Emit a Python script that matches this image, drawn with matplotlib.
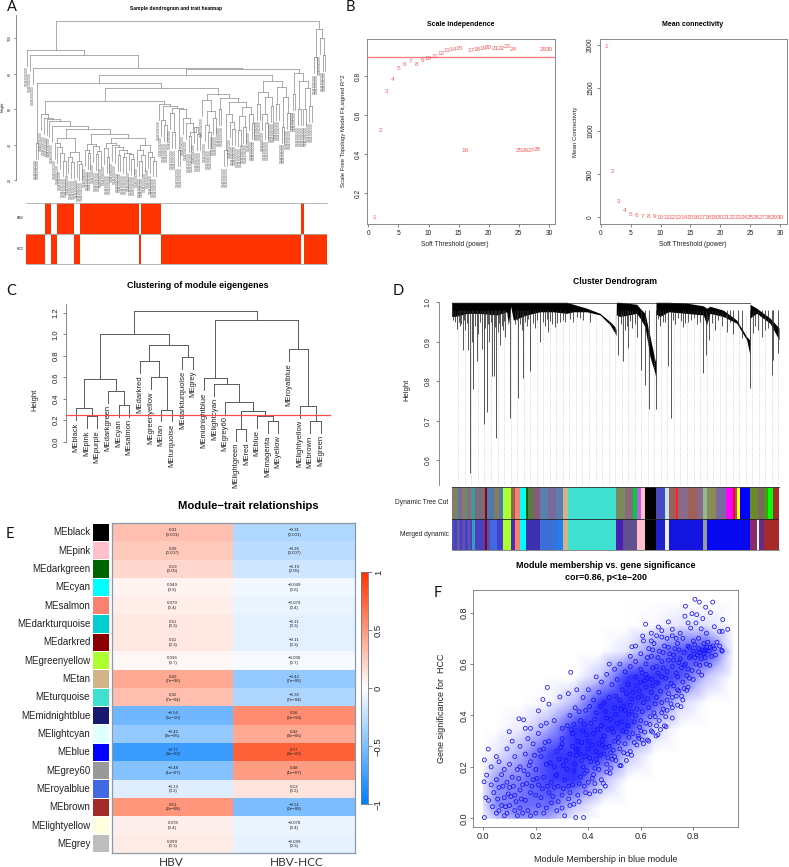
"""Six-panel WGCNA figure (A-F), rebuilt from values read off the published picture."""
import numpy as np
import matplotlib
matplotlib.use("Agg")
import matplotlib.pyplot as plt
from matplotlib.colors import LinearSegmentedColormap

plt.rcParams["font.family"] = ["Liberation Sans", "DejaVu Sans"]
plt.rcParams["axes.linewidth"] = 0.6
plt.rcParams["axes.edgecolor"] = "#777777"
plt.rcParams["xtick.color"] = "#555555"
plt.rcParams["ytick.color"] = "#555555"
plt.rcParams["xtick.labelcolor"] = "#222222"
plt.rcParams["ytick.labelcolor"] = "#222222"

W, H = 789, 867
G = "GSM2000000"  # sample ids are not legible in the source

# --- A: sample tree (height, left, right)
fan_a = (43.5, (41, G, (38.5, G, (35, G, (31, G, G)))), (36, (33, G, (30, G, G)), (30.5, G, (29, G, G))))
fan_b1 = (40.5, (37, G, (35, G, G)), (39, G, (36.5, (34.5, G, G), G)))
fan_c = (41, (38, G, (33, G, G)), (39.5, G, (38.5, G, (37, (34, G, G), (35.5, (33, G, G), (34.5, G, (32, G, G)))))))
fan_d = (39.5, (37, G, (34, (31, G, G), G)), (36, G, (33, G, (31, G, G))))
fan = (57, G, (55, G, (54.5, G, (53.5, G, (50.5, G, (49, fan_a, (46, fan_b1, (43.5, fan_c, fan_d))))))))
mid = (63, G, (62, (54, G, (51, G, G)), (60.5, (58, G, (47, G, G)),
      (60, (37, G, G), (55, G, (52, G, (47, (45, G, G), (50, G, (46, G, G)))))))))
r_a = (68.5, (65, G, (59, (51, G, (47, G, G)), (55, G, G))),
       (66.5, (60, G, G), (64, (57, (37, G, G), (53, G, (49, G, G))),
                           (61, (56, (48, G, G), (50, G, G)), (57, G, (52, G, G))))))
r_b = (76, (69.5, (63, G, G), (67, (57, G, (52, G, G)), (62, G, G))),
       (72.3, (63, G, G), (66.8, (50, G, G), (58, G, G))))
main = (79, (75, (41, G, G), (72, (64.5, fan, mid), r_a)), r_b)
far_six = (80.5, (68.5, G, G), (76, (60, G, G), (72, (60, G, G), (62, G, G))))
far_right = (105, (89.4, G, G), (100, G, (90.8, G, G)))
sample_tree = (110, (93.6, G, (90.6, G, (83, G, (82.5, main, far_six)))), far_right)
height_ticks = [20, 40, 60, 80, 100]
sample_runs = [7.25, 2.25, 2.25, 6.25, 2.1, 22.1, 1.1, 7.25, 52.6, 1.1, 8.5]

# --- B: soft threshold
powers = list(range(1, 31))
sft_r2 = [0.077, 0.52, 0.72, 0.786, 0.838, 0.863, 0.877, 0.86, 0.88, 0.894, 0.904, 0.918, 0.93, 0.938, 0.942,
          0.42, 0.933, 0.938, 0.945, 0.949, 0.944, 0.945, 0.952, 0.938, 0.419, 0.42, 0.42, 0.424, 0.938, 0.938]
mean_k = [1977, 528, 181, 73, 31, 15, 9, 6, 4, 3, 2, 2, 1, 1, 1, 1, 1, 1, 1, 1, 1, 1, 1, 1, 1, 1, 1, 1, 1, 1]

# --- C: eigengene tree
me_left = (0.58, (0.31, "MEblack", (0.24, "MEpink", "MEpurple")),
           (0.47, "MEdarkgreen", (0.34, "MEcyan", "MEsalmon")))
me_mid = (0.90, (0.75, "MEdarkred", (0.60, "MEgreenyellow", (0.30, "MEtan", "MEturquoise"))),
          (0.79, "MEdarkturquoise", "MEgrey"))
me_blue = (0.59, "MEmidnightblue", (0.54, "MElightcyan", (0.37, "MEgrey60", (0.29, (0.12, "MElightgreen", "MEred"),
           (0.235, "MEblue", (0.19, "MEmagenta", "MEyellow"))))))
me_roy = (0.86, "MEroyalblue", (0.33, "MElightyellow", (0.19, "MEbrown", "MEgreen")))
me_tree = (1.22, (1.0, me_left, me_mid), (1.13, me_blue, me_roy))

# --- D: gene tree, read as mass outline plus visible branches
d_pos = [335, 350, 380, 420, 470, 500, 505, 510, 512, 520, 560, 600, 640, 680, 700, 740, 780, 810, 825, 828,
         829, 840, 890, 900, 915, 930, 945, 947,
         948, 960, 985, 1040, 1090, 1100, 1110, 1150, 1190, 1220, 1229,
         1230, 1250, 1290, 1317]
d_top = [1, 1, 1, 1, 1, 1, 1, 1, 1, 1, 1, 1, 1, 1, .995, .985, .972, .951, .938, .93,
         1, 1, .995, .985, .972, .913, .854, .85,
         1, 1, 1, .998, .991, .985, .99, .98, .955, .913, .905,
         .995, .985, .96, .935]
d_bot = [.964, .965, .972, .972, .968, .976, .943, .975, .99, .955, .968, .976, .976, .972, .976, .976, .968, .943, .922, .915,
         .968, .964, .972, .96, .938, .862, .82, .81,
         .97, .964, .976, .972, .968, .943, .972, .964, .947, .905, .87,
         .96, .972, .947, .905]
spike_pos = [352, 368, 385, 391, 400, 410, 425, 431, 440, 455, 462, 469, 480, 495, 510, 535, 550, 570, 600, 625, 645,
             700, 835, 848, 865, 890, 902, 915, 928, 947, 985, 994, 1028, 1088, 1097, 1108, 1230, 1295, 1315, 1300,
             1240, 1265, 345, 360, 375, 395, 415, 448, 475, 488, 525, 545, 560, 585, 615, 635, 660, 720, 855, 875,
             960, 975, 1005, 1045, 1070, 1125, 1160, 1180, 1205,
             340, 356, 364, 372, 380, 405, 420, 436, 445, 452, 466, 478, 485, 492, 530, 540, 555, 565, 578, 592, 608, 622,
             630, 652, 668, 676, 690, 710, 730, 750, 842, 860, 870, 884, 955, 968, 1000, 1015, 1022, 1035, 1052, 1062,
             1080, 1115, 1135, 1145, 1170, 1195, 1245, 1255, 1275, 1285]
spike_low = [.932, .879, .879, .569, .78, .852, .881, .692, .723, .814, .814, .657, .892, .913, .708, .759, .809, .827,
             .9, .926, .938, .951, .867, .852, .884, .913, .829, .791, .729, .729, .839, .708, .938, .82, .867, .905,
             .782, .816, .871, .854, .922, .913, .95, .94, .93, .9, .92, .9, .925, .93, .945, .93, .94, .935, .94, .945,
             .95, .96, .93, .935, .94, .95, .945, .95, .945, .93, .925, .92, .91,
             .955, .95, .945, .955, .948, .94, .95, .935, .945, .95, .938, .948, .94, .952, .955, .945, .95, .958, .948, .955,
             .95, .957, .952, .948, .955, .95, .958, .962, .955, .95, .945, .94, .952, .945, .958, .95, .955, .96, .952, .948,
             .955, .96, .95, .948, .955, .94, .95, .945, .94, .93, .93, .935]
merged_colors = ["#5050b8", "#4a40c0", "#6058b0", "#4a3cc0", "#5c50b0", "#4a40c0", "#6058b0", "#4a40c0", "#2f9fc0", "#4a40c0",
                 "#8b0000", "#5050b8", "#4169e1", "#4040d0", "#adff2f", "#4a30b0", "#fa8072", "#00ffff", "#3c30b0", "#3a70d8",
                 "#2080f0", "#d2b48c", "#40e0d0", "#4a20b0", "#605090", "#ffc0cb", "#000000", "#2020d0", "#e8f0ff", "#1414e0",
                 "#999999", "#0808f0", "#8b2a6a", "#ffffff", "#6a2a8a", "#a52a2a"]
merged_widths = [8, 8, 8, 8, 8, 8, 8, 4, 10, 30, 6, 9, 20, 20, 22, 13, 16, 17, 42, 50, 19, 14, 145, 22, 40, 25, 33, 27, 12,
                 101, 12, 130, 20, 8, 14, 45]
dynamic_colors = ["#8a7a6a", "#6a8a6a", "#7a6a9a", "#8a7a6a", "#6a8a6a", "#7a6a9a", "#8a7a6a", "#2f9f9f", "#7a6a7a", "#8b0000",
                  "#4a7ab0", "#8a7a5a", "#4a7ab0", "#adff2f", "#8a6a4a", "#fa8072", "#00ffff", "#006400", "#5a7a4a", "#8a5a7a",
                  "#5a80b0", "#7a6a9a", "#5a80b0", "#d2b48c", "#40e0d0", "#7a8a5a", "#8a6a7a", "#00cc44", "#c060e0", "#ffc0cb",
                  "#000000", "#4a4ac0", "#c0e8f0", "#a0605a", "#ff2020", "#8a6a8a", "#a0605a", "#8a6a8a", "#8fbc8f", "#8a8a5a",
                  "#7a6aa0", "#ff00ff", "#ff0000", "#7a5a9a", "#ffff00", "#0000ff", "#6a8a2a", "#7a6a5a", "#4a9a1a", "#00ff00",
                  "#a52a2a"]
dynamic_widths = [10, 10, 10, 10, 10, 5, 5, 10, 30, 6, 20, 15, 14, 22, 13, 16, 17, 6, 18, 18, 25, 22, 22, 14, 145, 26, 26, 10,
                  13, 12, 33, 27, 12, 21, 6, 30, 26, 18, 12, 29, 29, 22, 6, 6, 7, 31, 25, 17, 13, 15, 17]

# --- E: module-trait table
me_rows = ["MEblack", "MEpink", "MEdarkgreen", "MEcyan", "MEsalmon", "MEdarkturquoise", "MEdarkred", "MEgreenyellow", "MEtan",
           "MEturquoise", "MEmidnightblue", "MElightcyan", "MEblue", "MEgrey60", "MEroyalblue", "MEbrown", "MElightyellow", "MEgrey"]
me_colors = ["black", "pink", "darkgreen", "cyan", "salmon", "darkturquoise", "darkred", "greenyellow", "tan",
             "turquoise", "midnightblue", "lightcyan", "blue", "#999999", "royalblue", "brown", "lightyellow", "#bebebe"]
traits = ["HBV", "HBV-HCC"]
cor_hbv = [0.31, 0.26, 0.19, 0.049, 0.079, 0.11, 0.11, 0.036, 0.42, 0.32, -0.56, -0.42, -0.77, -0.48, -0.13, 0.51, 0.078, 0.099]
cor_hcc = [-0.31, -0.26, -0.19, -0.049, -0.079, -0.11, -0.11, -0.036, -0.42, -0.32, 0.56, 0.42, 0.77, 0.48, 0.13, -0.51, -0.078, -0.099]
pvals = ["0.001", "0.007", "0.05", "0.6", "0.4", "0.3", "0.3", "0.7", "7e\u221206", "7e\u221204", "5e\u221210", "9e\u221206",
         "4e\u221222", "1e\u221207", "0.2", "2e\u221208", "0.4", "0.3"]

# --- F: module membership vs gene significance
pts_edge = [(.806, .852), (.823, .841), (.874, .841), (.77, .825), (.847, .821), (.768, .786), (.795, .796), (.813, .792),
            (.865, .8), (.912, .773), (.836, .777), (.931, .735), (.91, .727), (.9, .727), (.91, .65), (.705, .764),
            (.667, .744), (.618, .755), (.566, .667), (.607, .709), (.333, .568), (.244, .509), (.227, .462), (.136, .387),
            (.154, .383), (.099, .337), (.004, .227), (.019, .269), (.356, .5), (.324, .485), (.292, .472), (.25, .444),
            (.21, .418), (.013, .168), (.003, .142), (.352, .003), (.382, .003), (.004, .003), (.457, .136), (.425, .106),
            (.483, .175), (.52, .205), (.592, .311), (.658, .32), (.696, .356), (.753, .434), (.775, .498), (.832, .557),
            (.863, .595), (.908, .654), (.83, .737), (.79, .74), (.75, .72), (.72, .735), (.68, .705), (.64, .69),
            (.88, .745), (.89, .685), (.85, .72), (.81, .76), (.78, .76), (.735, .7), (.85, .665), (.875, .67)]
pts_low = [(.02, .07), (.03, .13), (.01, .08), (.05, .02), (.06, .03), (.07, .05), (.08, .01), (.09, .02), (.1, .05), (.12, .03),
           (.13, .01), (.14, .04), (.15, .02), (.17, .03), (.18, .01), (.2, .02), (.21, .05), (.23, .02), (.24, .04), (.28, .03),
           (.3, .04), (.31, .01), (.33, .05), (.26, .06), (.04, .1), (.06, .12), (.08, .08), (.1, .12), (.12, .09), (.14, .11),
           (.16, .07), (.18, .1), (.2, .09), (.22, .08), (.25, .1), (.27, .12), (.3, .09), (.33, .1), (.36, .09), (.39, .1),
           (.05, .15), (.07, .17), (.09, .14), (.11, .16), (.13, .19), (.15, .13), (.17, .17), (.19, .15), (.21, .13), (.23, .16),
           (.26, .14), (.28, .17), (.31, .15), (.34, .13), (.37, .16), (.4, .14), (.42, .17), (.45, .15), (.03, .2), (.06, .22),
           (.08, .19), (.1, .21), (.12, .24), (.14, .2), (.16, .25), (.18, .22), (.2, .19), (.22, .24), (.24, .21), (.27, .2),
           (.29, .23), (.32, .19), (.35, .21), (.38, .2), (.41, .22), (.44, .19), (.47, .21), (.05, .24), (.09, .27), (.11, .3),
           (.14, .28), (.17, .31), (.19, .29), (.21, .33), (.23, .27), (.25, .3), (.28, .26), (.3, .29), (.33, .25), (.36, .27),
           (.39, .24), (.43, .26), (.46, .25), (.49, .23), (.16, .35), (.18, .35), (.22, .36), (.24, .37), (.27, .38), (.3, .35)]
pts_mid = [(.3, .31), (.32, .36), (.34, .33), (.36, .3), (.38, .34), (.4, .3), (.42, .33), (.44, .29), (.46, .32), (.48, .28),
           (.5, .3), (.52, .27), (.54, .29), (.56, .26), (.33, .4), (.35, .43), (.37, .38), (.39, .42), (.41, .37), (.43, .41),
           (.45, .36), (.47, .39), (.49, .35), (.51, .37), (.53, .34), (.55, .36), (.57, .33), (.59, .32), (.61, .29), (.38, .47),
           (.4, .5), (.42, .46), (.44, .49), (.46, .45), (.48, .47), (.5, .43), (.52, .46), (.54, .42), (.56, .44), (.58, .4),
           (.6, .38), (.62, .37), (.64, .34), (.43, .55), (.45, .53), (.47, .56), (.49, .52), (.51, .54), (.53, .5), (.55, .52),
           (.57, .49), (.59, .47), (.61, .45), (.63, .43), (.65, .41), (.67, .38), (.69, .36), (.48, .6), (.5, .58), (.52, .6),
           (.54, .57), (.56, .59), (.58, .55), (.6, .53), (.62, .51), (.64, .49), (.66, .47), (.68, .45), (.7, .42), (.72, .39),
           (.34, .28), (.37, .25), (.4, .27), (.43, .23), (.47, .18), (.5, .24), (.55, .25), (.6, .34), (.63, .3), (.66, .36)]
pts_high = [(.56, .63), (.58, .61), (.6, .64), (.62, .6), (.64, .63), (.66, .59), (.68, .61), (.7, .57), (.72, .59), (.74, .55),
            (.76, .53), (.78, .51), (.8, .54), (.82, .57), (.58, .67), (.61, .69), (.63, .66), (.65, .68), (.67, .65), (.69, .67),
            (.71, .64), (.73, .66), (.75, .62), (.77, .6), (.79, .63), (.81, .6), (.83, .62), (.85, .6), (.87, .63), (.64, .72),
            (.66, .71), (.68, .73), (.7, .7), (.72, .71), (.74, .68), (.76, .7), (.78, .67), (.8, .69), (.82, .66), (.84, .68),
            (.86, .65), (.88, .66), (.9, .67), (.66, .53), (.68, .55), (.7, .51), (.72, .47), (.74, .5), (.76, .46), (.78, .58),
            (.62, .56), (.64, .54), (.6, .58), (.74, .44), (.72, .43), (.7, .46), (.68, .41), (.8, .65), (.82, .7), (.84, .64)]
pts_fill = [(.255, .215), (.275, .165), (.295, .275), (.315, .225), (.325, .125), (.345, .185), (.355, .245), (.365, .135),
            (.375, .295), (.385, .175), (.395, .325), (.405, .235), (.415, .285), (.425, .195), (.435, .345), (.445, .245),
            (.455, .305), (.465, .275), (.475, .345), (.485, .255), (.495, .335), (.505, .405), (.515, .315), (.525, .375),
            (.535, .435), (.545, .335), (.555, .405), (.565, .465), (.575, .375), (.585, .425), (.595, .495), (.605, .415),
            (.615, .535), (.625, .465), (.635, .395), (.645, .515), (.655, .445), (.665, .565), (.675, .495), (.685, .425),
            (.695, .545), (.705, .615), (.715, .525), (.725, .635), (.735, .565), (.745, .495), (.755, .585), (.765, .645),
            (.775, .555), (.785, .625), (.795, .575), (.805, .675), (.815, .635), (.825, .595), (.835, .655), (.845, .625),
            (.855, .685), (.345, .365), (.365, .415), (.385, .365), (.405, .435), (.425, .385), (.445, .435), (.465, .415),
            (.485, .385), (.505, .475), (.525, .425), (.545, .485), (.565, .415), (.585, .515), (.605, .475), (.625, .545),
            (.645, .585), (.665, .525), (.685, .585), (.705, .485), (.725, .515), (.745, .605), (.765, .505), (.785, .545),
            (.335, .345), (.355, .265), (.375, .225), (.395, .185), (.415, .155), (.435, .215), (.455, .285), (.475, .235),
            (.495, .265), (.515, .295), (.535, .255), (.555, .315), (.575, .295), (.595, .355), (.615, .335), (.635, .365),
            (.655, .395), (.675, .345), (.695, .395), (.715, .445), (.735, .475), (.755, .475), (.235, .295), (.215, .265),
            (.195, .245), (.175, .205), (.155, .185), (.135, .155), (.115, .125), (.095, .095), (.075, .125), (.055, .075),
            (.035, .045), (.245, .125), (.265, .085), (.285, .125), (.305, .205), (.225, .115), (.205, .155), (.185, .125),
            (.165, .135), (.145, .075), (.125, .065), (.105, .085), (.085, .045), (.285, .065), (.305, .115), (.325, .075),
            (.345, .055), (.365, .065), (.385, .125), (.405, .095), (.425, .135), (.445, .105), (.465, .125), (.485, .195),
            (.505, .225), (.525, .205), (.545, .225), (.565, .245), (.585, .285), (.605, .305), (.625, .305), (.645, .335),
            (.665, .325), (.605, .565), (.625, .625), (.645, .655), (.665, .625), (.685, .645), (.705, .665), (.725, .615),
            (.745, .655), (.765, .595), (.785, .665), (.805, .625), (.825, .645), (.845, .655), (.865, .665), (.885, .635)]
# ink cover of the solid band, read by eye per cell (rows low to high)
ink_mm = [0, .05, .15, .25, .35, .45, .55, .65, .75, .85, .95]
ink_gs = [0, .05, .15, .25, .35, .45, .55, .65, .75, .85]
ink_rows = [[.05, .2, .35, .3, .05, 0, 0, 0, 0, 0, 0],
            [.1, .4, .5, .5, .2, 0, 0, 0, 0, 0, 0],
            [.08, .35, .45, .65, .7, .25, 0, 0, 0, 0, 0],
            [0, .08, .3, .65, .85, .75, .2, 0, 0, 0, 0],
            [0, 0, .08, .3, .75, .85, .7, .15, 0, 0, 0],
            [0, 0, 0, .03, .25, .75, .9, .6, .15, 0, 0],
            [0, 0, 0, 0, 0, .2, .7, .85, .6, .2, 0],
            [0, 0, 0, 0, 0, 0, .1, .4, .6, .7, .05],
            [0, 0, 0, 0, 0, 0, 0, .03, .1, .1, 0],
            [0, 0, 0, 0, 0, 0, 0, 0, 0, 0, 0]]


def px_axes(fig, x0, y0, x1, y1):
    return fig.add_axes([x0 / W, 1 - y1 / H, (x1 - x0) / W, (y1 - y0) / H])


def draw_tree(ax, tree, hang, gap, fs, color="#6e6e6e", lw=0.6, text_color="#222222"):
    """Draw a nested (height, left, right) tree R-style, leaves hang a fixed length."""
    n = [0]

    def walk(node, up):
        if not isinstance(node, tuple):
            n[0] += 1
            x = n[0]
            ax.plot([x, x], [up, up - hang], color=color, lw=lw, clip_on=False)
            ax.text(x, up - hang - gap, node, rotation=90, ha="center", va="top", fontsize=fs, color=text_color)
            return x
        h, a, b = node
        xa, xb = walk(a, h), walk(b, h)
        ax.plot([xa, xb], [h, h], color=color, lw=lw, clip_on=False)
        xm = (xa + xb) / 2
        if up is not None:
            ax.plot([xm, xm], [up, h], color=color, lw=lw, clip_on=False)
        return xm

    walk(tree, None)
    return n[0]


def r_ticks(ax, size, length=2.0, pad=1.5):
    ax.tick_params(length=length, width=0.5, labelsize=size, pad=pad)
    for t in ax.get_yticklabels():
        t.set_rotation(90)
        t.set_va("center")


def runs_row(ax, y, widths, colors, start):
    left = start + np.concatenate([[0], np.cumsum(widths)[:-1]])
    ax.barh(y, widths, left=left, height=1, color=colors, linewidth=0)


fig = plt.figure(figsize=(W / 100, H / 100), dpi=100)


def label(x, y, s, **kw):
    kw.setdefault("ha", "center")
    kw.setdefault("va", "center")
    fig.text(x / W, 1 - y / H, s, **kw)


for s, x, y in [("A", 11.5, 7), ("B", 350, 7), ("C", 11, 291), ("D", 398, 291), ("E", 10, 534), ("F", 438, 593)]:
    label(x, y, s, family="Lato", fontsize=10.5, color="#111111")

# A
ax = px_axes(fig, 26, 14, 326.7, 180)
n_a = draw_tree(ax, sample_tree, 9, 0.6, 2.3, color="#8c8c8c", lw=0.5, text_color="#555555")
ax.set_xlim(0.5, n_a + 0.5)
ax.set_ylim(20, 113.7)
for k in ("top", "right", "bottom"):
    ax.spines[k].set_visible(False)
ax.spines["left"].set_position(("outward", 7.4))
ax.spines["left"].set_bounds(20, 113)
ax.set_xticks([])
ax.set_yticks(height_ticks)
r_ticks(ax, 2.5, 1.5)
ax.patch.set_alpha(0)
label(176, 8.5, "Sample dendrogram and trait heatmap", fontsize=3.6, fontweight="bold")
label(2.5, 107, "Height", fontsize=2.6, rotation=90)

ax = px_axes(fig, 26, 202.7, 326.7, 264.3)
alt = ["white", "#ff3300"]
runs_row(ax, 1, sample_runs, [alt[i % 2] for i in range(len(sample_runs))], 0)
runs_row(ax, 0, sample_runs, [alt[(i + 1) % 2] for i in range(len(sample_runs))], 0)
ax.set_xlim(0, sum(sample_runs))
ax.set_ylim(-0.5, 1.5)
ax.set_xticks([])
ax.set_yticks([])
ax.axhline(0.5, color="#aaaaaa", lw=0.6)
for k in ("left", "right"):
    ax.spines[k].set_visible(False)
ax.spines["top"].set_color("#aaaaaa")
ax.spines["bottom"].set_color("#aaaaaa")
label(24, 218, "HBV", fontsize=2.4, ha="right")
label(24, 249, "HCC", fontsize=2.4, ha="right")

# B left
ax = px_axes(fig, 367.3, 39.3, 555, 224)
for p, v in zip(powers, sft_r2):
    ax.text(p, v, str(p), color="#ff5a5a", fontsize=4.6, ha="center", va="center")
ax.axhline(0.9, color="#ff8080", lw=1.0)
ax.set_xlim(-0.17, 31)
ax.set_ylim(0.0426, 0.99)
ax.set_xticks(range(0, 31, 5))
ax.set_yticks([0.2, 0.4, 0.6, 0.8])
r_ticks(ax, 4.8, pad=2.2)
label(461, 25, "Scale independence", fontsize=5.0, fontweight="bold")
label(455, 244, "Soft Threshold (power)", fontsize=4.8, color="#222222")
label(343, 131, "Scale Free Topology Model Fit,signed R^2", fontsize=4.3, rotation=90, color="#222222")

# B right
ax = px_axes(fig, 600, 39.3, 786.7, 224)
for p, v in zip(powers, mean_k):
    ax.text(p, v, str(p), color="#ff5a5a", fontsize=4.6, ha="center", va="center")
ax.set_xlim(-0.12, 31.1)
ax.set_ylim(-78, 2062)
ax.set_xticks(range(0, 31, 5))
ax.set_yticks([0, 500, 1000, 1500, 2000])
r_ticks(ax, 4.8, pad=2.2)
label(693, 25, "Mean connectivity", fontsize=5.0, fontweight="bold")
label(693, 244, "Soft Threshold (power)", fontsize=4.8, color="#222222")
label(575, 132, "Mean Connectivity", fontsize=4.4, rotation=90, color="#222222")

# C
ax = px_axes(fig, 66, 304.4, 340, 441.7)
draw_tree(ax, me_tree, 0.11, 0.02, 5.5, color="#5a5a5a", lw=0.7)
ax.set_xlim(0.061, 25.79)
ax.set_ylim(0, 1.28)
ax.axhline(0.25, xmax=0.963, color="#ff4a4a", lw=0.9, zorder=5)
for k in ("top", "right", "bottom"):
    ax.spines[k].set_visible(False)
ax.set_xticks([])
ax.set_yticks([0, 0.2, 0.4, 0.6, 0.8, 1.0, 1.2])
r_ticks(ax, 5.5, pad=2.6)
ax.patch.set_alpha(0)
label(198, 286, "Clustering of module eigengenes", fontsize=6.4, fontweight="bold")
label(35, 400, "Height", fontsize=5.5, rotation=90, color="#222222")

# D
ax = px_axes(fig, 451.7, 302.3, 779, 485)
ax.vlines(np.arange(355, 1317, 19.6), 0.5375, 0.97, color="#bdbdbd", lw=0.5, ls=":")
ax.vlines(spike_pos, spike_low, 0.98, color="#2a2a2a", lw=0.55)
ax.fill_between(d_pos, d_top, d_bot, color="black", lw=0)
ax.plot([335, 1230], [0.997, 0.997], color="#222222", lw=0.5)
ax.set_xlim(335, 1317)
ax.set_ylim(0.5375, 1.0)
for k in ("top", "right", "bottom"):
    ax.spines[k].set_visible(False)
ax.spines["left"].set_position(("outward", 9.1))
ax.set_xticks([])
ax.set_yticks([0.6, 0.7, 0.8, 0.9, 1.0])
r_ticks(ax, 5, pad=3.2)
label(615, 281.7, "Cluster Dendrogram", fontsize=6.2, fontweight="bold")
label(407, 390, "Height", fontsize=5.5, rotation=90, color="#222222")

ax = px_axes(fig, 451.7, 487.3, 779, 550)
runs_row(ax, 1, dynamic_widths, dynamic_colors, 335)
runs_row(ax, 0, merged_widths, merged_colors, 335)
ax.set_xlim(335, 1317)
ax.set_ylim(-0.5, 1.5)
ax.axhline(0.5, color="#222222", lw=0.6)
ax.set_xticks([])
ax.set_yticks([])
for k in ("left", "right"):
    ax.spines[k].set_visible(False)
ax.spines["top"].set_color("#333333")
label(448.5, 503, "Dynamic Tree Cut", fontsize=4.8, ha="right", color="#222222")
label(448.5, 534.5, "Merged dynamic", fontsize=4.8, ha="right", color="#222222")

# E
blue_white_red = LinearSegmentedColormap.from_list("bwr_r", ["#007fff", "white", "#ff3300"])
ax = px_axes(fig, 112, 523.3, 355, 853)
cells = np.array([cor_hbv, cor_hcc]).T
ax.imshow(cells, cmap=blue_white_red, vmin=-1, vmax=1, aspect="auto", interpolation="nearest")
for i, p in enumerate(pvals):
    for j, col in enumerate((cor_hbv, cor_hcc)):
        v = f"{col[i]:g}".replace("-", "\u2212")
        ax.text(j, i, f"{v}\n({p})", ha="center", va="center", fontsize=3.2, color="#222222", linespacing=1.15)
ax.set_xticks([])
ax.set_yticks([])
for k in ax.spines:
    ax.spines[k].set_color("#8a9aa8")
    ax.spines[k].set_linewidth(0.9)
for t, cx in zip(traits, (171, 296.5)):
    label(cx, 862, t, family="Lato", fontsize=8.5, color="#333333")
label(248, 506, "Module\u2212trait relationships", fontsize=8.1, fontweight="bold")

ax = px_axes(fig, 92.7, 523.3, 109.3, 853)
ax.barh(range(len(me_rows)), [1] * len(me_rows), height=0.94, left=0, color=me_colors, linewidth=0)
ax.set_xlim(0, 1)
ax.set_ylim(len(me_rows) - 0.5, -0.5)
ax.axis("off")
for i, name in enumerate(me_rows):
    ax.text(-0.15, i, name, ha="right", va="center", fontsize=7.0, color="#222222")

ax = px_axes(fig, 360.7, 572.3, 367.7, 804.3)
ax.imshow(np.linspace(1, -1, 256)[:, None], cmap=blue_white_red, vmin=-1, vmax=1, aspect="auto", extent=(0, 1, -1, 1))
ax.set_xticks([])
ax.yaxis.tick_right()
ax.set_yticks([-1, -0.5, 0, 0.5, 1])
ax.set_yticklabels(["\u22121", "\u22120.5", "0", "0.5", "1"])
ax.tick_params(length=3, width=0.5, labelsize=6.8, pad=1.5)
for t in ax.get_yticklabels():
    t.set_rotation(90)
    t.set_va("center")

# F
ax = px_axes(fig, 473.3, 590, 737.7, 827.3)
ax.pcolormesh(ink_mm, ink_gs, np.array(ink_rows), shading="gouraud", vmin=0, vmax=0.7,
              cmap=LinearSegmentedColormap.from_list("ink", ["white", "#3232ff"]), zorder=1)
for pts in (pts_edge, pts_low, pts_mid, pts_high, pts_fill):
    mm, gs = zip(*pts)
    ax.scatter(mm, gs, s=8, facecolors="none", edgecolors="#1010ff", linewidths=0.55, zorder=2)
ax.set_xlim(-0.038, 0.969)
ax.set_ylim(-0.035, 0.888)
ax.set_xticks([0, 0.2, 0.4, 0.6, 0.8])
ax.set_yticks([0, 0.2, 0.4, 0.6, 0.8])
r_ticks(ax, 6.5)
label(606, 566, "Module membership vs. gene significance", fontsize=6.4, fontweight="bold")
label(606, 577.7, "cor=0.86, p<1e\u2212200", fontsize=6.4, fontweight="bold")
label(606, 859, "Module Membership in blue module", fontsize=6.5, color="#222222")
label(441.7, 708, "Gene significance for  HCC", fontsize=6.5, rotation=90, color="#222222")

fig.savefig("out.png", dpi=100)
